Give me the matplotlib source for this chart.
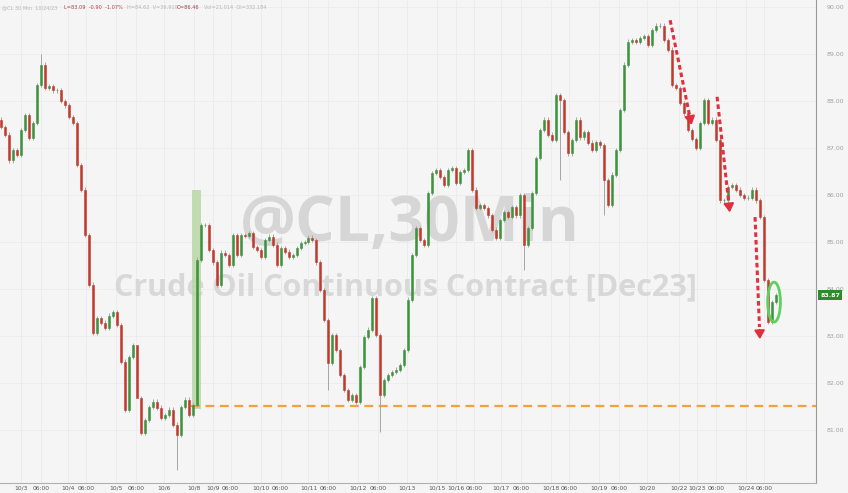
import numpy as np
import matplotlib
matplotlib.use("Agg")
from matplotlib import pyplot as plt
from matplotlib.patches import Ellipse, Rectangle

# 30 minute closes (Oct 2 -> Oct 24)
closes = [
    87.45, 87.28, 86.74, 86.96, 86.85, 87.38, 87.70, 87.21, 87.53, 88.34,
    88.77, 88.28, 88.32, 88.23, 88.23, 88.00, 87.91, 87.66, 87.53, 86.64,
    86.11, 85.15, 84.09, 83.06, 83.38, 83.28, 83.17, 83.43, 83.51, 83.23,
    82.45, 81.43, 82.55, 82.81, 81.68, 80.94, 81.21, 81.49, 81.60, 81.47,
    81.26, 81.32, 81.43, 81.11, 80.89, 81.49, 81.64, 81.32, 81.53, 84.62,
    85.36, 85.36, 84.83, 84.57, 84.09, 84.77, 84.72, 84.51, 85.15, 84.72,
    85.15, 85.13, 85.19, 84.89, 84.83, 84.68, 85.04, 85.11, 84.94, 84.51,
    84.87, 84.79, 84.68, 84.72, 84.87, 84.98, 85.00, 85.09, 85.04, 84.57,
    83.98, 83.34, 82.43, 83.02, 82.70, 82.17, 81.85, 81.64, 81.74, 81.60,
    82.34, 82.98, 83.13, 83.81, 83.02, 81.74, 82.06, 82.17, 82.23, 82.28,
    82.38, 82.70, 83.77, 84.72, 85.30, 85.04, 84.94, 86.04, 86.47, 86.53,
    86.38, 86.21, 86.53, 86.57, 86.26, 86.49, 86.53, 86.96, 86.11, 85.72,
    85.79, 85.72, 85.57, 85.26, 85.09, 85.47, 85.64, 85.53, 85.74, 85.57,
    86.00, 84.94, 85.30, 86.04, 86.79, 87.38, 87.60, 87.28, 87.17, 88.13,
    88.02, 87.34, 86.89, 87.17, 87.60, 87.23, 87.34, 87.11, 86.96, 87.13,
    87.06, 86.32, 85.79, 86.43, 86.96, 87.81, 88.77, 89.26, 89.30, 89.26,
    89.34, 89.38, 89.19, 89.51, 89.60, 89.60, 89.30, 89.09, 88.34, 88.28,
    87.96, 87.74, 87.38, 87.19, 87.00, 87.53, 88.02, 87.53, 87.60, 87.17,
    85.89, 85.89, 86.17, 86.21, 86.11, 86.00, 85.94, 85.94, 86.11, 85.89,
    85.53, 84.19, 83.30, 83.72, 83.87,
]
first_open = 87.60

# long wicks that stand out
spike_idx = [10, 34, 44, 82, 95, 131, 140, 151]
spike_high = [89.00, None, None, None, None, None, None, None]
spike_low = [None, 82.85, 80.15, 81.85, 80.96, 84.40, 86.32, 85.57]

tick_labels = ["10/3", "06:00", "10/4", "06:00", "10/5", "06:00", "10/6", "10/8",
               "10/9", "06:00", "10/10", "06:00", "10/11", "06:00", "10/12", "06:00",
               "10/13", "10/15", "10/16", "06:00", "10/17", "06:00", "10/18", "06:00",
               "10/19", "06:00", "10/20", "10/22", "10/23", "06:00", "10/24", "06:00"]
tick_pos = [5, 10, 16.75, 21.25, 28.75, 33.75, 40.75, 48.25,
            53, 57.5, 65, 70, 77, 82, 89.5, 94.5,
            101.75, 109.25, 114, 118.5, 125.25, 130.25, 137.75, 142.25,
            149.75, 154.75, 161.75, 169.75, 174.25, 179, 186.5, 191]

price_levels = [81, 82, 83, 84, 85, 86, 87, 88, 89, 90]
support = 81.51
last_price = 83.87

closes = np.array(closes)
opens = np.concatenate([[first_open], closes[:-1]])
highs = np.maximum(opens, closes) + 0.05
lows = np.minimum(opens, closes) - 0.05
for i, h, l in zip(spike_idx, spike_high, spike_low):
    if h is not None:
        highs[i] = h
    if l is not None:
        lows[i] = l
idx = np.arange(len(closes))
up = closes >= opens

bg = "#f5f5f5"
fig = plt.figure(figsize=(8.48, 4.93), dpi=100, facecolor=bg)
ax = fig.add_axes([0, 10 / 493, 816 / 848, 483 / 493], facecolor=bg)

ax.set_xlim(-0.2, 204)
ax.set_ylim(79.87, 90.15)

# faint grid
for p in tick_pos:
    ax.axvline(p, color="#ebebeb", lw=0.6, zorder=0)
for p in price_levels:
    ax.axhline(p, color="#ececec", lw=0.6, zorder=0)

# watermark
ax.text(0.502, 0.535, "@CL,30Min", transform=ax.transAxes, ha="center", va="center",
        fontsize=45, fontweight="bold", color="#d6d6d6", family=["Open Sans", "DejaVu Sans"], zorder=0.5)
ax.text(0.497, 0.405, "Crude Oil Continuous Contract [Dec23]", transform=ax.transAxes,
        ha="center", va="center", fontsize=22, fontweight="bold", color="#d8d8d8",
        family=["Open Sans", "DejaVu Sans"], zorder=0.5)

# weekend gap highlight
ax.add_patch(Rectangle((47.9, 81.45), 2.3, 4.65, facecolor="#b9d7a5", edgecolor="none",
                       alpha=0.85, zorder=1))

# support line
ax.hlines(support, 47.5, 204, colors="#f2a23a", linestyles=(0, (4, 2.5)), lw=1.6, zorder=1.5)

# candles
ax.vlines(idx, lows, highs, color="#a5a5a5", lw=0.7, zorder=2)
green, red = "#3f9340", "#c23a2e"
ax.bar(idx[up], closes[up] - opens[up], bottom=opens[up], width=0.5,
       color=green, edgecolor=green, lw=0.4, zorder=3)
ax.bar(idx[~up], closes[~up] - opens[~up], bottom=opens[~up], width=0.5,
       color=red, edgecolor=red, lw=0.4, zorder=3)

# red dashed arrows
arrows = [((167.5, 89.72), (173.0, 87.43)),
          ((179.25, 88.09), (182.5, 85.57)),
          ((188.75, 85.53), (190.0, 82.87))]
for (x0, y0), (x1, y1) in arrows:
    xm = x0 + (x1 - x0) * 0.88
    ym = y0 + (y1 - y0) * 0.88
    ax.plot([x0, xm], [y0, ym], color="#e0303f", lw=2.2, ls=(0, (1.5, 1.0)), zorder=5,
            solid_capstyle="butt", dash_capstyle="butt")
    ax.annotate("", xy=(x1, y1), xytext=(xm, ym),
                arrowprops=dict(arrowstyle="-|>,head_width=0.3,head_length=0.5",
                                color="#e0303f", lw=1.5), zorder=5)

# green circle on the bounce
ax.add_patch(Ellipse((193.5, 83.72), 3.2, 0.85, facecolor="none", edgecolor="#5fd05f",
                     lw=2.0, zorder=6))

# axes styling
for s in ["top", "left"]:
    ax.spines[s].set_visible(False)
ax.spines["right"].set_color("#9a9a9a")
ax.spines["bottom"].set_color("#b0b0b0")
ax.yaxis.tick_right()
ax.set_yticks(price_levels)
ax.set_yticklabels(["%.2f" % p for p in price_levels])
ax.tick_params(axis="y", length=0, pad=8, labelsize=4.5, labelcolor="#a0a0a0")
ax.set_xticks(tick_pos)
ax.set_xticklabels(tick_labels)
ax.tick_params(axis="x", length=0, pad=2, labelsize=4.3, labelcolor="#555555")

# last price tag
ax.annotate("%.2f" % last_price, xy=(1.0, last_price), xycoords=("axes fraction", "data"),
            xytext=(3, 0), textcoords="offset points", ha="left", va="center",
            fontsize=4.5, color="white", fontweight="bold",
            bbox=dict(boxstyle="square,pad=0.35", facecolor="#2f8a2f", edgecolor="none"),
            annotation_clip=False)

# header line
header = [("@CL 30 Min  10/24/23", "#b5b5b5", 0.002),
          ("L=83.09  -0.90  -1.07%", "#b04040", 0.075),
          ("H=84.62  V=36,919", "#b5b5b5", 0.150),
          ("O=86.46", "#a04040", 0.208),
          ("Vol=21,014  OI=332,184", "#b5b5b5", 0.240)]
for txt, col, xf in header:
    fig.text(xf, 0.99, txt, ha="left", va="top", fontsize=3.6, color=col)

fig.savefig("out.png", dpi=100, facecolor=bg)
